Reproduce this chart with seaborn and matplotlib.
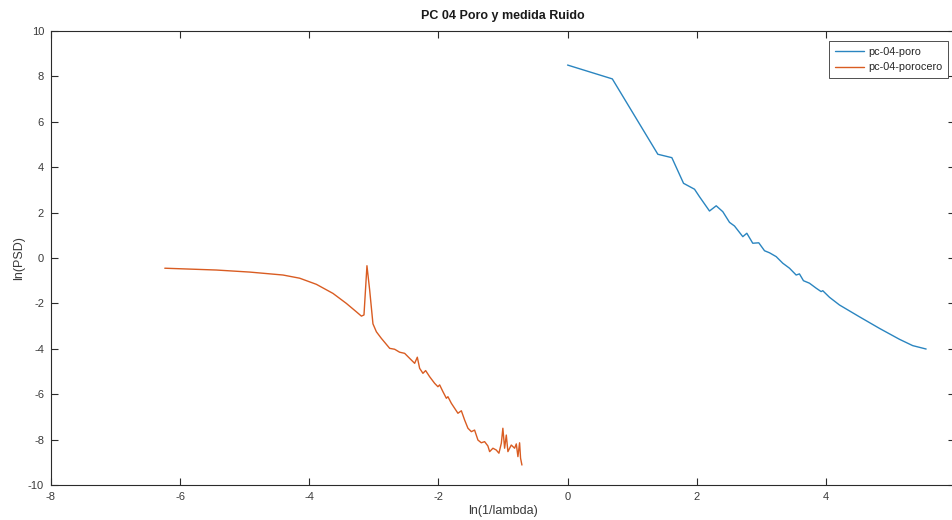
import numpy as np
import pandas as pd
import matplotlib
matplotlib.use("Agg")
import matplotlib.pyplot as plt
import seaborn as sns

# ---- data ----
poro_x = [0.000, 0.693, 1.398, 1.615, 1.796, 1.966, 2.043, 2.198, 2.302, 2.404,
          2.508, 2.585, 2.714, 2.776, 2.868, 2.961, 3.050, 3.127, 3.231, 3.333,
          3.437, 3.540, 3.591, 3.653, 3.746, 3.850, 3.927, 3.952, 4.056, 4.211,
          4.520, 4.830, 5.139, 5.345, 5.553]
poro_y = [8.50, 7.89, 4.57, 4.42, 3.29, 3.03, 2.70, 2.07, 2.30, 2.04,
          1.57, 1.41, 0.94, 1.09, 0.65, 0.67, 0.32, 0.23, 0.06, -0.23,
          -0.45, -0.75, -0.70, -1.00, -1.11, -1.33, -1.48, -1.44, -1.73, -2.07,
          -2.59, -3.10, -3.58, -3.86, -4.01]

porocero_x = [-6.238, -5.438, -4.923, -4.407, -4.149, -3.890, -3.633, -3.426, -3.271, -3.193,
              -3.153, -3.107, -3.065, -3.014, -2.961, -2.884, -2.755, -2.678, -2.601, -2.523,
              -2.446, -2.368, -2.327, -2.291, -2.240, -2.198, -2.136, -2.059, -2.008, -1.981,
              -1.930, -1.877, -1.853, -1.800, -1.749, -1.698, -1.645, -1.594, -1.543, -1.490,
              -1.440, -1.388, -1.336, -1.285, -1.234, -1.207, -1.156, -1.104, -1.063, -1.026,
              -1.002, -0.975, -0.949, -0.924, -0.872, -0.820, -0.794, -0.769, -0.743, -0.728,
              -0.707]
porocero_y = [-0.45, -0.53, -0.62, -0.75, -0.89, -1.16, -1.56, -2.00, -2.37, -2.56,
              -2.51, -0.34, -1.41, -2.90, -3.25, -3.54, -3.98, -4.02, -4.15, -4.20,
              -4.42, -4.64, -4.37, -4.86, -5.08, -4.96, -5.23, -5.52, -5.67, -5.59,
              -5.89, -6.18, -6.11, -6.40, -6.62, -6.84, -6.73, -7.14, -7.50, -7.65,
              -7.58, -8.02, -8.14, -8.09, -8.28, -8.53, -8.38, -8.46, -8.60, -8.16,
              -7.50, -8.38, -7.80, -8.53, -8.24, -8.38, -8.19, -8.75, -8.14, -8.82,
              -9.12]

series_names = ["pc-04-poro", "pc-04-porocero"]
title_text = "PC 04 Poro y medida Ruido"
x_label = "ln(1/lambda)"
y_label = "ln(PSD)"
x_ticks = [-8, -6, -4, -2, 0, 2, 4]
y_ticks = [-10, -8, -6, -4, -2, 0, 2, 4, 6, 8, 10]

df = pd.concat([
    pd.DataFrame({"x": poro_x, "y": poro_y, "serie": series_names[0]}),
    pd.DataFrame({"x": porocero_x, "y": porocero_y, "serie": series_names[1]}),
], ignore_index=True)

sns.set_theme(style="ticks")
plt.rcParams["font.family"] = ["Liberation Sans", "DejaVu Sans"]

W, H = 953, 520
fig = plt.figure(figsize=(W / 100, H / 100), dpi=100)
ax_l, ax_r, ax_t, ax_b = 51, 955, 31, 485
ax = fig.add_axes([ax_l / W, 1 - ax_b / H, (ax_r - ax_l) / W, (ax_b - ax_t) / H])

palette = {series_names[0]: "#2a85c0", series_names[1]: "#d95c22"}
sns.lineplot(data=df, x="x", y="y", hue="serie", palette=palette, sort=False,
             estimator=None, units="serie", linewidth=1.0, ax=ax, legend=True)

ax.set_xlim(-8, 6)
ax.set_ylim(-10, 10)
ax.set_xticks(x_ticks)
ax.set_yticks(y_ticks)
ax.set_xticklabels([str(t) for t in x_ticks])
ax.set_yticklabels([str(t) for t in y_ticks])

edge = "#2b2b2b"
for s in ax.spines.values():
    s.set_visible(True)
    s.set_color(edge)
    s.set_linewidth(0.8)
ax.tick_params(direction="in", length=5, width=0.8, color=edge, labelcolor="#3a3a3a",
               labelsize=8, top=True, right=True, pad=5)

ax.set_xlabel(x_label, fontsize=9, color="#3a3a3a", labelpad=2)
ax.set_ylabel(y_label, fontsize=9, color="#3a3a3a", labelpad=2)
ax.set_title(title_text, fontsize=9, fontweight="bold", color="#1a1a1a", pad=9)

handles = ax.get_legend().legend_handles
ax.legend(handles=handles, labels=series_names,
          loc="upper right", bbox_to_anchor=(948 / W, 1 - 41 / H),
          bbox_transform=fig.transFigure, fontsize=7.8, frameon=True, fancybox=False,
          framealpha=1, edgecolor="#333333", handlelength=2.7, handletextpad=0.35,
          borderpad=0.55, labelspacing=0.5, borderaxespad=0)
ax.get_legend().get_frame().set_linewidth(0.6)

fig.savefig("out.png", dpi=100, facecolor="white")
